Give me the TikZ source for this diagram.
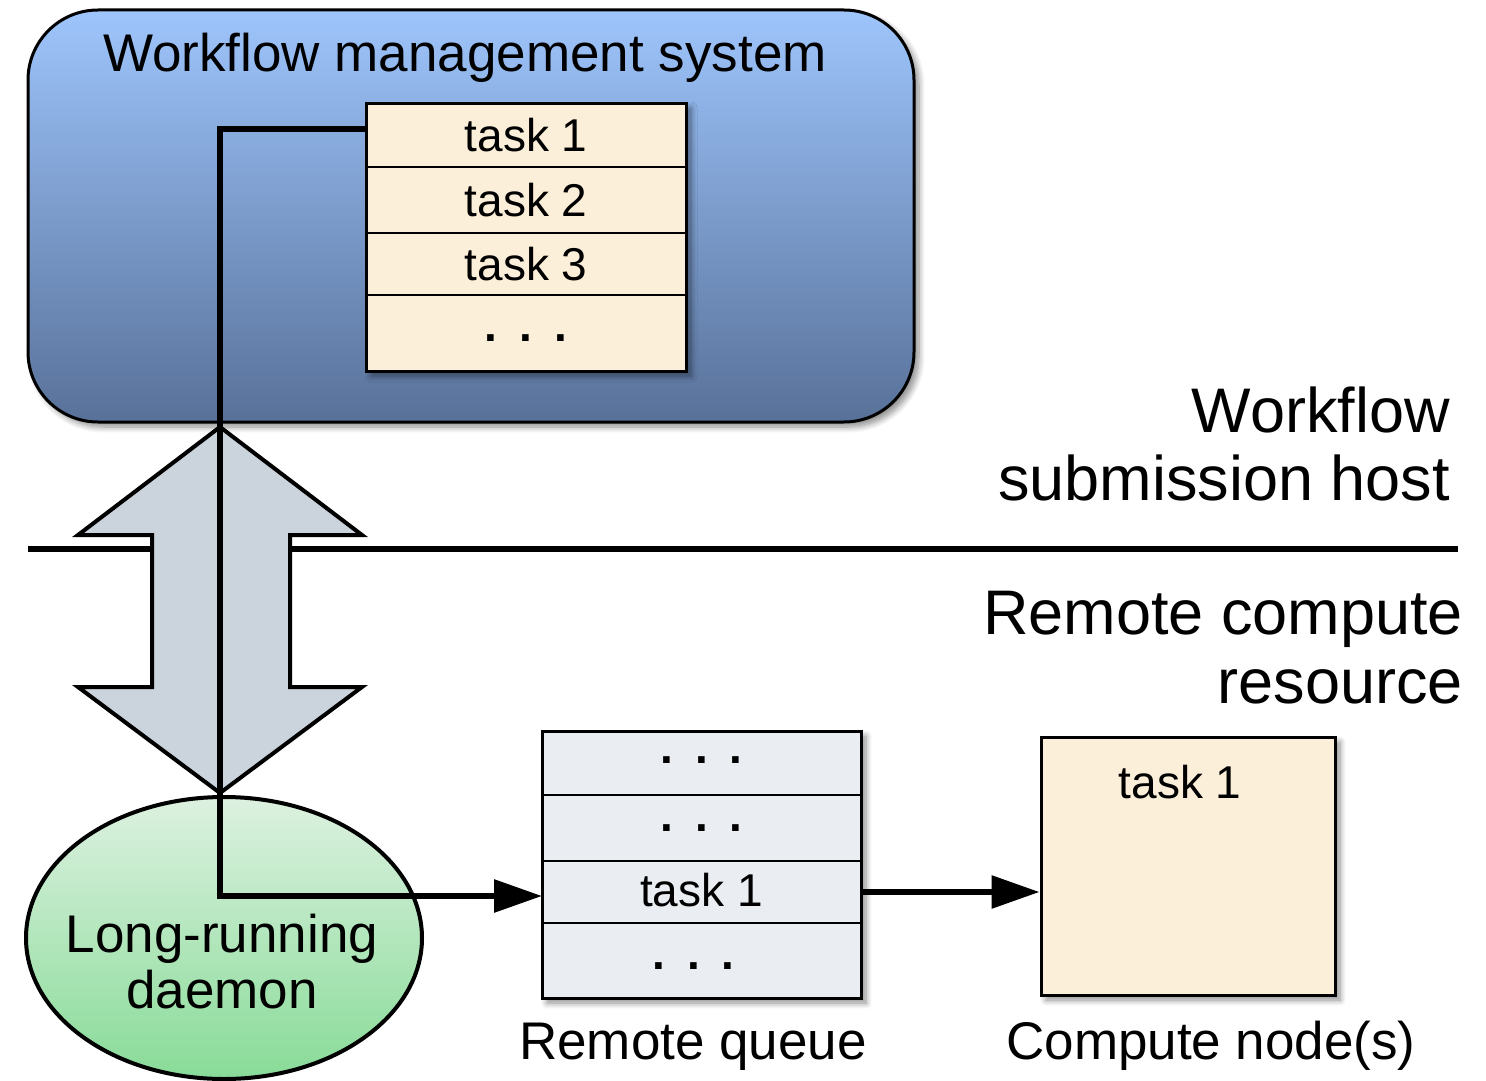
\documentclass[tikz,border=0pt]{standalone}
\usepackage{fontspec}
\setmainfont{Liberation Sans}
\usetikzlibrary{arrows.meta,shapes.geometric,shadows.blur}
\definecolor{wmstop}{RGB}{158,197,252}
\definecolor{wmsbot}{RGB}{88,113,153}
\definecolor{cream}{RGB}{252,239,217}
\definecolor{arrowfill}{RGB}{203,211,220}
\definecolor{queuefill}{RGB}{234,238,242}
\definecolor{daetop}{RGB}{221,241,224}
\definecolor{daebot}{RGB}{136,219,152}
\newcommand{\mydots}[1]{\raisebox{#1}[0pt][0pt]{\bfseries .\hspace{22pt}.\hspace{22pt}.}}
\begin{document}
\begin{tikzpicture}[x=1pt,y=-1pt,
  bigtext/.style={font=\fontsize{53}{56}\selectfont, inner sep=0},
  hosttext/.style={font=\fontsize{63}{68}\selectfont, anchor=base east, inner sep=0},
  rowtext/.style={font=\fontsize{46}{50}\selectfont},
  row/.style={draw, line width=2pt, rectangle, minimum width=320pt, inner sep=0, outer sep=0, anchor=north, rowtext},
  shadowed/.style={blur shadow={shadow xshift=5pt, shadow yshift=-5pt, shadow blur steps=8, shadow opacity=45, shadow blur radius=6pt}},
  conn/.style={line width=6pt, -{Triangle[length=48pt,width=32pt]}},
]
\useasboundingbox (0,0) rectangle (1486,1081);
% workflow management system
\node[draw, line width=3pt, rounded corners=70pt, top color=wmstop, bottom color=wmsbot,
  minimum width=886pt, minimum height=412pt, inner sep=0, shadowed] (wms) at (471,216) {};
\node[bigtext, anchor=base] (wmstitle) at (465,72) {Workflow management system};
% task table
\node[draw, line width=3pt, fill=cream, minimum width=320pt, minimum height=268pt, inner sep=0, outer sep=0, shadowed] (tbl) at (526,237) {};
\node[row, minimum height=64pt] (t1) at (526,103) {task 1};
\node[row, minimum height=66pt] (t2) at (t1.south) {task 2};
\node[row, minimum height=62pt] (t3) at (t2.south) {task 3};
\node[row, minimum height=76pt] (t4) at (t3.south) {\mydots{-8pt}};
\draw[line width=3pt] (tbl.north west) rectangle (tbl.south east);
% separator
\coordinate (sepL) at (28,549);
\coordinate (sepR) at (1458,549);
\draw[line width=6pt] (sepL) -- (sepR);
% daemon
\node[ellipse, draw, line width=4pt, top color=daetop, bottom color=daebot,
  minimum width=396pt, minimum height=282pt, inner sep=0] (daemon) at (224,938) {};
% double arrow
\draw[line width=4pt, fill=arrowfill, line join=miter]
  (220,427) -- (362,535) -- (290,535) -- (290,687) -- (362,687) -- (220,793)
  -- (78,687) -- (152,687) -- (152,535) -- (78,535) -- cycle;
% remote queue
\node[draw, line width=3pt, fill=queuefill, minimum width=319pt, minimum height=267pt, inner sep=0, outer sep=0, shadowed] (qbg) at (701.5,864.5) {};
\node[row, minimum width=319pt, minimum height=64pt] (q1) at (701.5,731) {\mydots{0pt}};
\node[row, minimum width=319pt, minimum height=66pt] (q2) at (q1.south) {\mydots{-3pt}};
\node[row, minimum width=319pt, minimum height=62pt] (q3) at (q2.south) {\raisebox{5pt}{task 1}};
\node[row, minimum width=319pt, minimum height=75pt] (q4) at (q3.south) {\hspace*{-16pt}\mydots{-9pt}};
\draw[line width=3pt] (qbg.north west) rectangle (qbg.south east);
% compute node
\node[draw, line width=3pt, fill=cream, minimum width=294pt, minimum height=258pt, inner sep=0, shadowed] (cn) at (1188,866) {};
\node[rowtext, anchor=base, inner sep=0] (cntask) at (1180,798) {task 1};
% connectors
\coordinate (j1) at (220,129);
\draw[conn] ([yshift=6pt]t1.west) -- (j1) |- ([yshift=-4pt]q3.west);
\draw[conn] (q3.east) -- (q3.east -| cn.west);
% texts
\node[bigtext, anchor=base] (dl1) at (222,952) {Long-running};
\node[bigtext, anchor=base] (dl2) at (222,1008) {daemon};
\node[bigtext, anchor=base] (qlabel) at (693,1059) {Remote queue};
\node[bigtext, anchor=base] (cnlabel) at (1211,1059) {Compute node(s)};
\node[hosttext] (h1) at (1450,432) {Workflow};
\node[hosttext] (h2) at (1450,500) {submission host};
\node[hosttext] (r1) at (1463,634) {Remote compute};
\node[hosttext] (r2) at (1463,703) {resource};
\end{tikzpicture}
\end{document}
